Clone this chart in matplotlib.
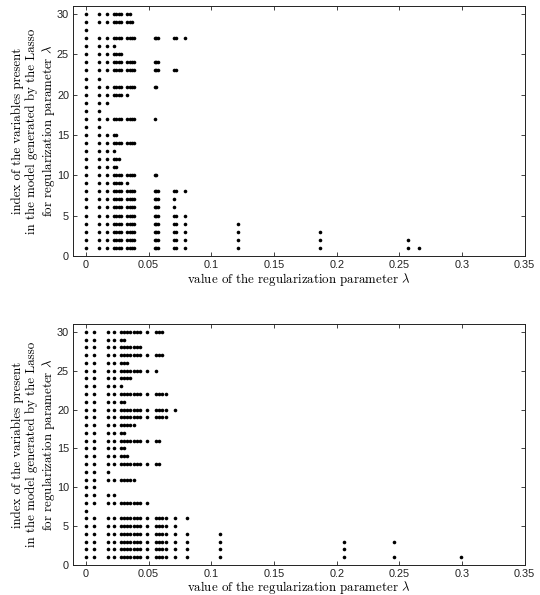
import numpy as np
import matplotlib.pyplot as plt

# values of lambda on the path, smallest first
lam_top = [0.0, 0.0105, 0.0165, 0.0222, 0.0242, 0.0262, 0.0282,
           0.0330, 0.0350, 0.0370, 0.0385, 0.0548, 0.0560, 0.0572,
           0.0700, 0.0718, 0.0790, 0.121, 0.187, 0.257, 0.266]
lam_bot = [0.0, 0.0067, 0.0175, 0.0225, 0.0280, 0.0305, 0.0330, 0.0355,
           0.0380, 0.0405, 0.0430, 0.0490, 0.0562, 0.0585, 0.0610, 0.0635,
           0.0710, 0.0810, 0.107, 0.206, 0.246, 0.299]

# variable index 1..30 -> how many of the smallest lambdas keep it in the model
n_top = [21, 20, 19, 18, 17, 15, 15, 17, 8, 13,
         5, 6, 4, 11, 5, 2, 12, 2, 3, 8,
         13, 2, 16, 14, 7, 4, 17, 1, 10, 9]
n_bot = [22, 20, 21, 19, 17, 18, 1, 12, 4, 2,
         9, 3, 14, 7, 6, 14, 6, 9, 16, 17,
         6, 16, 5, 8, 13, 7, 15, 11, 6, 15]

xticks = [0, 0.05, 0.1, 0.15, 0.2, 0.25, 0.3, 0.35]
xticklabels = ["0", "0.05", "0.1", "0.15", "0.2", "0.25", "0.3", "0.35"]
yticks = [0, 5, 10, 15, 20, 25, 30]

xlabel = r"value of the regularization parameter $\lambda$"
ylabel = ("index of the variables present\n"
          "in the model generated by the Lasso\n"
          r"for regularization parameter $\lambda$")

plt.rcParams['mathtext.fontset'] = 'cm'


def draw(ax, lams, counts, xlab_y):
    xs, ys = [], []
    for var, n in enumerate(counts, start=1):
        for lam in lams[:n]:
            xs.append(lam)
            ys.append(var)
    ax.plot(xs, ys, 'o', color='k', markersize=2.6, markeredgewidth=0)

    ax.set_xlim(-0.0101, 0.35)
    ax.set_ylim(0, 31)
    ax.set_xticks(xticks)
    ax.set_xticklabels(xticklabels)
    ax.set_yticks(yticks)
    ax.tick_params(direction='in', length=3, width=0.6, top=True, right=True,
                   labelsize=7.8, pad=3, colors='#222222')
    for lab in ax.get_xticklabels() + ax.get_yticklabels():
        lab.set_fontfamily('Liberation Sans')
    for sp in ax.spines.values():
        sp.set_linewidth(0.7)
        sp.set_color('#222222')

    ax.set_xlabel(xlabel, fontfamily='cmr10', fontsize=9.3)
    ax.set_ylabel(ylabel, fontfamily='cmr10', fontsize=9.3, linespacing=1.15)
    ax.xaxis.set_label_coords(0.5, xlab_y)
    ax.yaxis.set_label_coords(-0.036, 0.5)


fig = plt.figure(figsize=(5.4, 5.95), dpi=100)
ax1 = fig.add_axes([0.1357, 0.570, 0.836, 0.420])
ax2 = fig.add_axes([0.1357, 0.0504, 0.836, 0.405])

draw(ax1, lam_top, n_top, -0.062)
draw(ax2, lam_bot, n_bot, -0.058)

fig.savefig("out.png", dpi=100)
